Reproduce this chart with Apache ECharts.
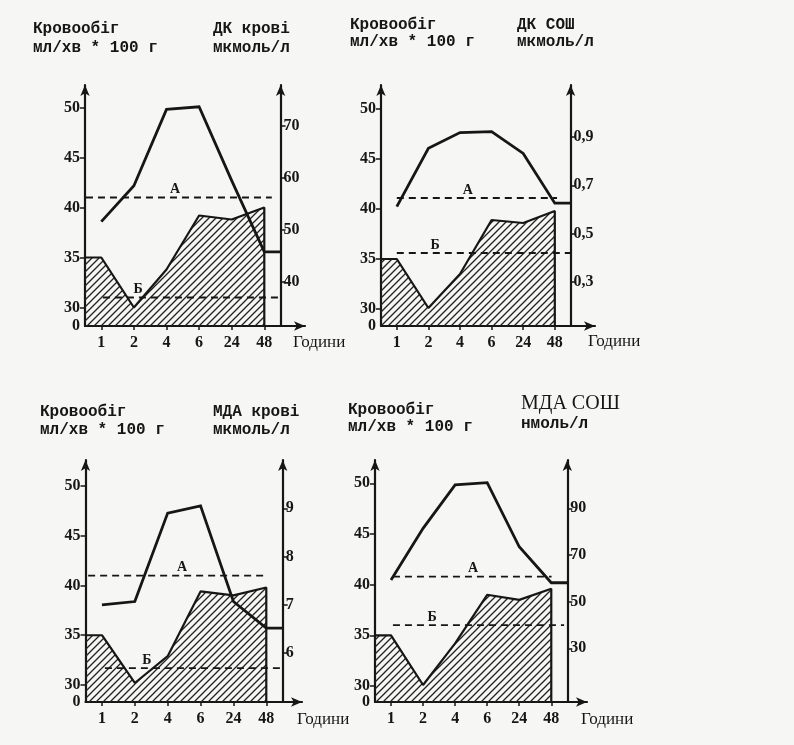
<!DOCTYPE html>
<html><head><meta charset="utf-8">
<script src="https://cdn.jsdelivr.net/npm/echarts@6/dist/echarts.min.js"></script>
<style>html,body{margin:0;padding:0;background:#f6f6f4}#c{width:794px;height:745px}</style>
</head><body><div id="c"></div>
<script>
// ---------- data ----------
const hours = ['1', '2', '4', '6', '24', '48'];
// blood flow, ml/min * 100 g (hatched area, left axes); init = level at time 0
const flowInit = [35, 35, 35, 35];
const flowDkBlood = [35, 30, 33.8, 39.2, 38.8, 40];
const flowDkMucosa = [35, 30.1, 33.5, 38.9, 38.6, 39.8];
const flowMdaBlood = [35, 30.2, 32.9, 39.4, 39.0, 39.8];
const flowMdaMucosa = [35, 30.1, 34.2, 39.0, 38.5, 39.6];
// lipid peroxidation products (solid line, right axes)
const dkBlood = [51.6, 58.5, 73.2, 73.7, 59.5, 45.8];      // мкмоль/л
const dkMucosa = [0.612, 0.853, 0.918, 0.922, 0.832, 0.626]; // мкмоль/л
const mdaBlood = [7.0, 7.07, 8.9, 9.05, 7.07, 6.52];       // мкмоль/л
const mdaMucosa = [59.3, 81.4, 100, 101, 73.5, 58.1];      // нмоль/л
// dashed reference levels (left-axis units) and their spans (in hour slots)
const levelA = [41.0, 41.1, 41.0, 40.8];
const levelB = [31.0, 35.6, 31.7, 36.0];
const spanA = [[0.03, 5.73], [0.5, 5.57], [0.08, 5.55], [0.56, 5.51]];
const spanB = [[0.55, 6], [0.5, 6], [0.59, 5.98], [0.56, 5.9]];
const labelPosA = [2.76, 2.75, 2.94, 3.06];
const labelPosB = [1.63, 1.71, 1.87, 1.78];
// tick labels
const leftTicks = [30, 35, 40, 45, 50];
const rightTicks = [[40, 50, 60, 70], [0.3, 0.5, 0.7, 0.9], [6, 7, 8, 9], [30, 50, 70, 90]];
const titlesRight = [['ДК крові', 'мкмоль/л'], ['ДК СОШ', 'мкмоль/л'], ['МДА крові', 'мкмоль/л'], ['МДА СОШ', 'нмоль/л']];
const titleLeft = ['Кровообіг', 'мл/хв * 100 г'];
const xName = 'Години';

const flows = [flowDkBlood, flowDkMucosa, flowMdaBlood, flowMdaMucosa];
const lines = [dkBlood, dkMucosa, mdaBlood, mdaMucosa];

// ---------- layout ----------
const layout = [
  {left: 85, top: 85, width: 220, height: 241, unit: 32.6, lMin: 28.15, lMax: 52.25, rMin: 31.54, rMax: 77.88},
  {left: 381, top: 85, width: 214, height: 241, unit: 31.6, lMin: 28.3, lMax: 52.4, rMin: 0.118, rMax: 1.115},
  {left: 85.5, top: 460, width: 216.5, height: 242, unit: 32.87, lMin: 28.29, lMax: 52.61, rMin: 4.99, rMax: 10.0},
  {left: 375, top: 460, width: 212, height: 242, unit: 32.05, lMin: 28.42, lMax: 52.3, rMin: 6.98, rMax: 110.7}
];
const headPos = [
  {lx: 33, ly1: 29, ly2: 48, rx: 213, ry1: 29, ry2: 48, rs: 16, rf: 'mono'},
  {lx: 350, ly1: 25, ly2: 42, rx: 517, ry1: 25, ry2: 42, rs: 16, rf: 'mono'},
  {lx: 40, ly1: 412, ly2: 430, rx: 213, ry1: 412, ry2: 430, rs: 16, rf: 'mono'},
  {lx: 348, ly1: 410, ly2: 427, rx: 521, ry1: 404, ry2: 424, rs: 20, rf: 'serif'}
];
const xNamePos = [[293, 343], [588, 342], [297, 720], [581, 720]];

const INK = '#161616';
const SERIF = '"Liberation Serif", "DejaVu Serif", serif';
const MONO = '"Liberation Mono", "DejaVu Sans Mono", monospace';

// hatch pattern
const pc = document.createElement('canvas');
pc.width = 7; pc.height = 7;
const g = pc.getContext('2d');
g.strokeStyle = '#222'; g.lineWidth = 1.3;
g.beginPath();
g.moveTo(0, 7); g.lineTo(7, 0);
g.moveTo(-2, 2); g.lineTo(2, -2);
g.moveTo(5, 9); g.lineTo(9, 5);
g.stroke();
const hatch = {image: pc, repeat: 'repeat'};

const grid = [], xAxis = [], yAxis = [], series = [], graphic = [];
const slots = hours.map((h, j) => j + 0.5);
const axisLineStyle = {color: INK, width: 2.2};

layout.forEach((L, i) => {
  grid.push({left: L.left, top: L.top, width: L.width, height: L.height, outerBoundsMode: 'none', containLabel: false});
  const xMax = L.width / L.unit;
  xAxis.push({
    type: 'value', gridIndex: i, min: 0, max: xMax, position: 'bottom',
    axisLine: {show: true, onZero: false, symbol: ['none', 'arrow'], symbolSize: [7, 11], lineStyle: axisLineStyle},
    axisTick: {show: true, customValues: slots, length: 4, lineStyle: {color: INK, width: 1.5}},
    axisLabel: {customValues: slots, margin: 9, color: INK, fontFamily: SERIF, fontWeight: 'bold', fontSize: 16,
      formatter: v => hours[Math.round(v - 0.5)]},
    splitLine: {show: false}
  });
  yAxis.push({
    type: 'value', gridIndex: i, min: L.lMin, max: L.lMax, position: 'left',
    axisLine: {show: true, onZero: false, symbol: ['none', 'arrow'], symbolSize: [7, 11], lineStyle: axisLineStyle},
    axisTick: {show: true, customValues: leftTicks, length: 5, lineStyle: {color: INK, width: 1.5}},
    axisLabel: {customValues: [L.lMin].concat(leftTicks), margin: 5, color: INK, fontFamily: SERIF, fontWeight: 'bold', fontSize: 16,
      formatter: v => (v < leftTicks[0] ? '0' : String(v))},
    splitLine: {show: false}
  });
  yAxis.push({
    type: 'value', gridIndex: i, min: L.rMin, max: L.rMax, position: 'right',
    offset: 6 * L.unit - L.width,
    axisLine: {show: true, onZero: false, symbol: ['none', 'arrow'], symbolSize: [7, 11], lineStyle: axisLineStyle},
    axisTick: {show: true, customValues: rightTicks[i], length: 5, lineStyle: {color: INK, width: 1.5}},
    axisLabel: {customValues: rightTicks[i], margin: 3, color: INK, fontFamily: SERIF, fontWeight: 'bold', fontSize: 16,
      formatter: v => String(v).replace('.', ',')},
    splitLine: {show: false}
  });

  // hatched blood-flow area
  const f = flows[i];
  const flowData = [[0, flowInit[i]]].concat(f.map((v, j) => [slots[j], v])).concat([[slots[5], L.lMin]]);
  series.push({
    type: 'line', xAxisIndex: i, yAxisIndex: 2 * i, data: flowData, symbol: 'none', z: 2,
    lineStyle: {color: INK, width: 2.2}, areaStyle: {color: hatch, opacity: 1, origin: 'start'}, silent: true
  });
  // lipid peroxidation line
  const ln = lines[i];
  const lineData = ln.map((v, j) => [slots[j], v]).concat([[6, ln[5]]]);
  series.push({
    type: 'line', xAxisIndex: i, yAxisIndex: 2 * i + 1, data: lineData, symbol: 'none', z: 4,
    lineStyle: {color: INK, width: 2.8, join: 'miter'}
  });
  // dashed levels A and Б
  const dashed = (lvl, span, lp, txt) => ({
    type: 'line', xAxisIndex: i, yAxisIndex: 2 * i, z: 3,
    data: [[span[0], lvl], {value: [lp, lvl], label: {show: true, formatter: txt, position: 'top', distance: 1,
      color: INK, fontFamily: SERIF, fontWeight: 'bold', fontSize: 14}}, [span[1], lvl]],
    symbol: 'circle', symbolSize: 0.1, itemStyle: {color: 'rgba(0,0,0,0)'},
    lineStyle: {color: INK, width: 1.8, type: [7, 5]}
  });
  series.push(dashed(levelA[i], spanA[i], labelPosA[i], 'А'));
  series.push(dashed(levelB[i], spanB[i], labelPosB[i], 'Б'));

  // headers
  const H = headPos[i];
  const txt = (t, x, y, font) => ({type: 'text', x: x, y: y,
    style: {text: t, fill: INK, font: font, verticalAlign: 'middle'}});
  graphic.push(txt(titleLeft[0], H.lx, H.ly1, 'bold 16px ' + MONO));
  graphic.push(txt(titleLeft[1], H.lx, H.ly2, 'bold 16px ' + MONO));
  graphic.push(txt(titlesRight[i][0], H.rx, H.ry1, H.rf === 'serif' ? (H.rs + 'px ' + SERIF) : ('bold ' + H.rs + 'px ' + MONO)));
  graphic.push(txt(titlesRight[i][1], H.rx, H.ry2, 'bold 16px ' + MONO));
  graphic.push(txt(xName, xNamePos[i][0], xNamePos[i][1], '17px ' + SERIF));
});

const chart = echarts.init(document.getElementById('c'), null, {renderer: 'canvas'});
chart.setOption({
  backgroundColor: '#f6f6f4',
  animation: false,
  grid, xAxis, yAxis, series, graphic
});
</script>
</body></html>
